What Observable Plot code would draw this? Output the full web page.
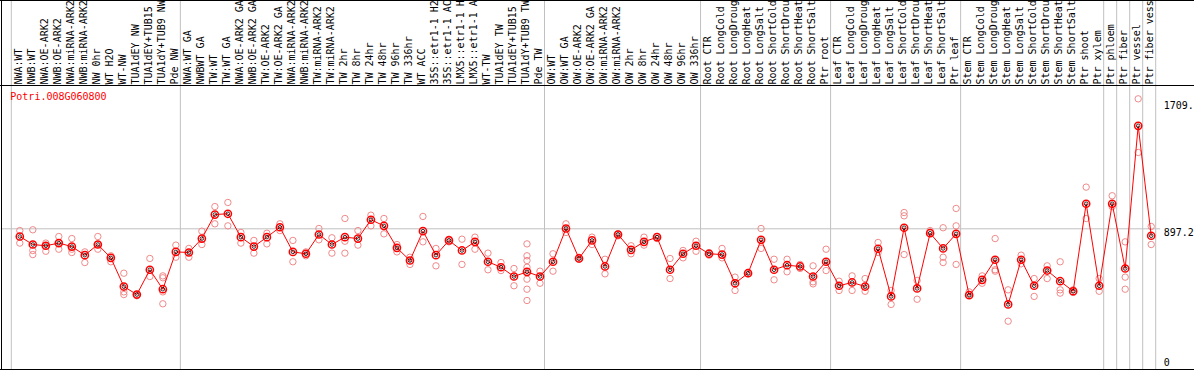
<!DOCTYPE html>
<html><head><meta charset="utf-8">
<script src="https://cdn.jsdelivr.net/npm/d3@7"></script>
<script src="https://cdn.jsdelivr.net/npm/@observablehq/plot@0.6"></script>
<style>html,body{margin:0;padding:0;background:#fff;overflow:hidden}svg{display:block}</style>
</head><body><div id="chart"></div>
<script>
const gene = "Potri.008G060800";
const categories = [
  "NWA:WT","NWB:WT","NWA:OE-ARK2","NWB:OE-ARK2","NWA:miRNA-ARK2","NWB:miRNA-ARK2","NW 0hr","WT H2O","WT-NW","TUA1dEY NW","TUA1dEY+TUB15","TUA1dY+TUB9 NW","Pde NW",
  "NWA:WT GA","NWBWT GA","TW:WT","TW:WT GA","NWA:OE-ARK2 GA","NWB:OE-ARK2 GA","TW:OE-ARK2","TW:OE-ARK2 GA","NWA:miRNA-ARK2","NWB:miRNA-ARK2","TW:miRNA-ARK2","TW:miRNA-ARK2","TW 2hr","TW 8hr","TW 24hr","TW 48hr","TW 96hr","TW 336hr","WT ACC","35S::etr1-1 H2","35S::etr1-1 AC","LMX5::etr1-1 H","LMX5::etr1-1 A","WT-TW","TUA1dEY TW","TUA1dEY+TUB15","TUA1dY+TUB9 TW","Pde TW",
  "OW:WT","OW:WT GA","OW:OE-ARK2","OW:OE-ARK2 GA","OW:miRNA-ARK2","OW:miRNA-ARK2","OW 2hr","OW 8hr","OW 24hr","OW 48hr","OW 96hr","OW 336hr",
  "Root CTR","Root LongCold","Root LongDroug","Root LongHeat","Root LongSalt","Root ShortCold","Root ShortDrou","Root ShortHeat","Root ShortSalt","Ptr root",
  "Leaf CTR","Leaf LongCold","Leaf LongDroug","Leaf LongHeat","Leaf LongSalt","Leaf ShortCold","Leaf ShortDrou","Leaf ShortHeat","Leaf ShortSalt","Ptr leaf",
  "Stem CTR","Stem LongCold","Stem LongDroug","Stem LongHeat","Stem LongSalt","Stem ShortCold","Stem ShortDrou","Stem ShortHeat","Stem ShortSalt","Ptr shoot","Ptr xylem",
  "Ptr phloem","Ptr fiber","Ptr vessel","Ptr fiber vess"
];
const groupSizes = [13, 28, 12, 10, 10, 11, 1, 1, 1, 1];
const means = [
  848,797,789,806,784,729,797,712,529,478,636,512,750,
  746,835,988,993,844,784,844,907,750,738,861,797,844,835,955,916,776,695,882,729,823,759,814,687,652,593,623,593,
  687,899,708,823,657,861,763,814,844,636,738,789,
  738,733,550,614,827,636,665,657,593,687,
  534,555,529,770,466,904,517,869,772,865,
  474,572,700,415,700,534,631,563,499,1057,534,
  1057,644,1554,853
];
const replicates = [
  [886,806],[891,759,733],[806,789,754],[848,806,767],[835,767,746],[750,682],[848,797,767],[725,687],[614,495,478],[478,470],[708,593],[597,585,495,419],[793,716],
  [772,716],[882,797],[1039,929],[1065,916],[874,806],[823,742],[869,801],[929,886],[823,687],[750,725],[899,827],[840,742],[963,818,742],[886,793],[984,916],[963,865],[797,750],[716,670],[976,814],[772,661],[831,814],[831,670],[844,767],[742,636],[682,631],[644,534],[801,725,695,652,576,512,440],[627,550],
  [738,627],[929,874],[716,703],[844,797],[703,610],[865,852],[789,738],[844,793],[848,835],[708,580],[759,712],[818,754],
  [746,729],[772,712],[589,504],[619,610],[899,772],[703,572],[703,623],[670,644],[661,559,546],[767,631],
  [563,504],[597,504],[580,499],[810,746],[504,415],[1001,980,733],[568,448],[886,874],[904,716,682],[1027,916,670],
  [495,478],[597,550],[835,636,627],[508,308],[729,674],[580,466],[661,580],[687,508,487],[508,491],[1163,963],[580,499],
  [1108,1039],[814,589,512],[1726,1384],[912,797]
];
const tickValues = [1709, 897.2, 0];
const tickLabels = ["1709.", "897.2", "0"];
const refValue = 897.2;
const yMax = 1811;

const meanData = means.map((v, i) => ({i, v}));
const repData = replicates.flatMap((r, i) => r.map(v => ({i, v})));
const bounds = [-0.5];
groupSizes.forEach(s => bounds.push(bounds[bounds.length - 1] + s));
const ticks = tickValues.map((v, k) => ({v, label: tickLabels[k]}));

const font = "'DejaVu Sans Mono', monospace";
const plot = Plot.plot({
  width: 1194, height: 370,
  marginLeft: 12.8, marginRight: 36.8, marginTop: 85, marginBottom: 1,
  x: {type: "linear", domain: [-0.5, categories.length - 0.5], axis: null},
  y: {domain: [0, yMax], axis: null},
  style: {fontFamily: font, fontSize: "10px", background: "#fff", overflow: "hidden"},
  marks: [
    Plot.ruleX(bounds, {x: d => d, dx: -2, stroke: "#c0c0c0", strokeWidth: 1, insetTop: -85}),
    Plot.ruleY([refValue], {y: d => d, stroke: "#c0c0c0", strokeWidth: 1, insetLeft: -12, insetRight: -3}),
    Plot.ruleY([0], {y: d => d, stroke: "#000", strokeWidth: 1, insetLeft: -13, insetRight: -37}),
    Plot.ruleY([yMax], {y: d => d, stroke: "#000", strokeWidth: 1, insetLeft: -13, insetRight: -37}),
    Plot.ruleY([yMax], {y: d => d, dy: -85, stroke: "#000", strokeWidth: 1, insetLeft: -13, insetRight: -37}),
    Plot.ruleX([-0.5], {x: d => d, dx: -11.8, stroke: "#000", strokeWidth: 1, insetTop: -85}),
    Plot.text(categories, {x: (d, i) => i, frameAnchor: "top", dy: -1, dx: -1.5, rotate: -90,
      textAnchor: "start", lineAnchor: "middle", text: d => d, fill: "#000"}),
    Plot.dot(repData, {x: "i", y: "v", r: 3.2, stroke: "#f08a8a", strokeWidth: 1, fill: "none"}),
    Plot.line(meanData, {x: "i", y: "v", stroke: "#ff0000", strokeWidth: 1}),
    Plot.dot(meanData, {x: "i", y: "v", r: 3.6, stroke: "#ff0000", strokeWidth: 1.5, fill: "none"}),
    Plot.dot(meanData, {x: "i", y: "v", r: 1.8, stroke: "#000", strokeWidth: 0.8, fill: "none"}),
    Plot.text([gene], {frameAnchor: "top-left", dx: -3, dy: 7, text: d => d, fill: "#ff0000",
      textAnchor: "start", lineAnchor: "top"}),
    Plot.text(ticks.filter(t => t.v > 0), {y: "v", text: "label", frameAnchor: "right", dx: 6,
      textAnchor: "start", lineAnchor: "top", fill: "#000"}),
    Plot.text(ticks.filter(t => t.v === 0), {y: "v", text: "label", frameAnchor: "right", dx: 6, dy: -7,
      textAnchor: "start", lineAnchor: "middle", fill: "#000"})
  ]
});
document.getElementById("chart").appendChild(plot);
</script>
</body></html>
